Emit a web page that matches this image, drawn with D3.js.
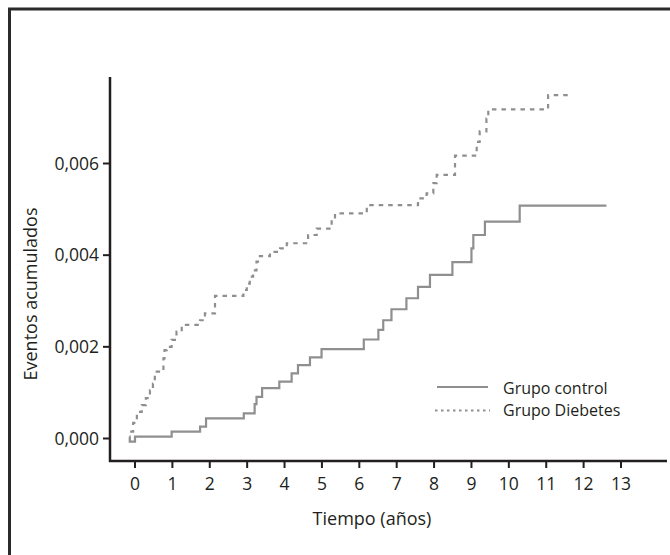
<!DOCTYPE html>
<html><head><meta charset="utf-8">
<script src="https://cdn.jsdelivr.net/npm/d3@7"></script>
<style>body{margin:0;background:#fff}svg{display:block}text{font-family:"Open Sans",sans-serif;fill:#231f20}</style>
</head><body><svg id="c" width="670" height="555"></svg>
<script>
const xTicks = [0,1,2,3,4,5,6,7,8,9,10,11,12,13];
const yTicks = [0, 0.002, 0.004, 0.006];
const yTickLabels = ["0,000","0,002","0,004","0,006"];
const seriesNames = ["Grupo control","Grupo Diebetes"];
const controlTime = [-0.15,-0.14,0.0,0.98,1.74,1.9,2.91,3.2,3.25,3.4,3.86,4.19,4.36,4.68,4.99,6.12,6.51,6.64,6.86,7.26,7.57,7.89,8.49,9.0,9.05,9.36,10.29,12.61];
const controlValue = [0.00004,-0.00007,0.00004,0.00015,0.00026,0.00044,0.00055,0.00075,0.00091,0.0011,0.00124,0.00142,0.0016,0.00177,0.00195,0.00216,0.00237,0.00258,0.00282,0.00306,0.00331,0.00357,0.00385,0.00415,0.00444,0.00473,0.00508,0.00508];
const diabTime = [-0.13,-0.05,0.05,0.18,0.29,0.40,0.48,0.53,0.76,0.79,0.85,0.98,1.11,1.25,1.74,1.87,2.14,2.9,2.99,3.07,3.16,3.25,3.34,3.61,3.88,4.06,4.63,4.86,5.26,5.35,6.2,7.57,7.8,7.98,8.07,8.56,9.14,9.22,9.4,9.45,11.05,11.68];
const diabValue = [0.00015,0.00034,0.00058,0.00073,0.00088,0.00105,0.0012,0.00146,0.00175,0.00193,0.002,0.00215,0.00233,0.00248,0.00258,0.00273,0.00311,0.00324,0.00338,0.00353,0.00367,0.00386,0.00398,0.00407,0.00415,0.00426,0.00444,0.00458,0.0048,0.00491,0.00509,0.00524,0.00535,0.00557,0.00575,0.00617,0.00647,0.0067,0.00698,0.00718,0.00749,0.00749];

const svg = d3.select("#c");
const x = d3.scaleLinear().domain([0,13]).range([135,621]);
const y = d3.scaleLinear().domain([0,0.006]).range([438.5,163.5]);
const axisColor = "#231f20";
const lineColor = "#8f8f8f";

// frame
svg.append("path").attr("d","M9.5,556 V9 H672").attr("fill","none").attr("stroke","#2b2b2b").attr("stroke-width",3);

// axes
svg.append("line").attr("x1",110).attr("x2",110).attr("y1",77).attr("y2",462).attr("stroke",axisColor).attr("stroke-width",2.5);
svg.append("line").attr("x1",109).attr("x2",667).attr("y1",461).attr("y2",461).attr("stroke",axisColor).attr("stroke-width",2.5);

const ga = svg.append("g");
yTicks.forEach((v,i)=>{
  ga.append("line").attr("x1",103).attr("x2",110).attr("y1",y(v)).attr("y2",y(v)).attr("stroke",axisColor).attr("stroke-width",2);
  ga.append("text").attr("x",99).attr("y",y(v)).attr("dy","0.36em").attr("text-anchor","end").attr("font-size",17.5).text(yTickLabels[i]);
});
xTicks.forEach(t=>{
  ga.append("line").attr("x1",x(t)).attr("x2",x(t)).attr("y1",461).attr("y2",468).attr("stroke",axisColor).attr("stroke-width",2);
  ga.append("text").attr("x",x(t)).attr("y",490).attr("text-anchor","middle").attr("font-size",17.5).text(t);
});
svg.append("text").attr("x",372).attr("y",525).attr("text-anchor","middle").attr("font-size",18).text("Tiempo (años)");
svg.append("text").attr("transform","translate(37,294) rotate(-90)").attr("text-anchor","middle").attr("font-size",18).text("Eventos acumulados");

const line = d3.line().x(d=>x(d[0])).y(d=>y(d[1])).curve(d3.curveStepAfter);
const cData = controlTime.map((t,i)=>[t,controlValue[i]]);
const dData = diabTime.map((t,i)=>[t,diabValue[i]]);
svg.append("path").attr("d",line(cData)).attr("fill","none").attr("stroke",lineColor).attr("stroke-width",2.2);
svg.append("path").attr("d",line(dData)).attr("fill","none").attr("stroke",lineColor).attr("stroke-width",2.2).attr("stroke-dasharray","4.5,5");

// legend
svg.append("line").attr("x1",437).attr("x2",488).attr("y1",387).attr("y2",387).attr("stroke",lineColor).attr("stroke-width",2.2);
svg.append("line").attr("x1",435).attr("x2",490).attr("y1",410.5).attr("y2",410.5).attr("stroke",lineColor).attr("stroke-width",2).attr("stroke-dasharray","2.5,3.5");
svg.append("text").attr("x",503).attr("y",388).attr("dy","0.36em").attr("font-size",16).text(seriesNames[0]);
svg.append("text").attr("x",503).attr("y",410.5).attr("dy","0.36em").attr("font-size",16).text(seriesNames[1]);
</script></body></html>
